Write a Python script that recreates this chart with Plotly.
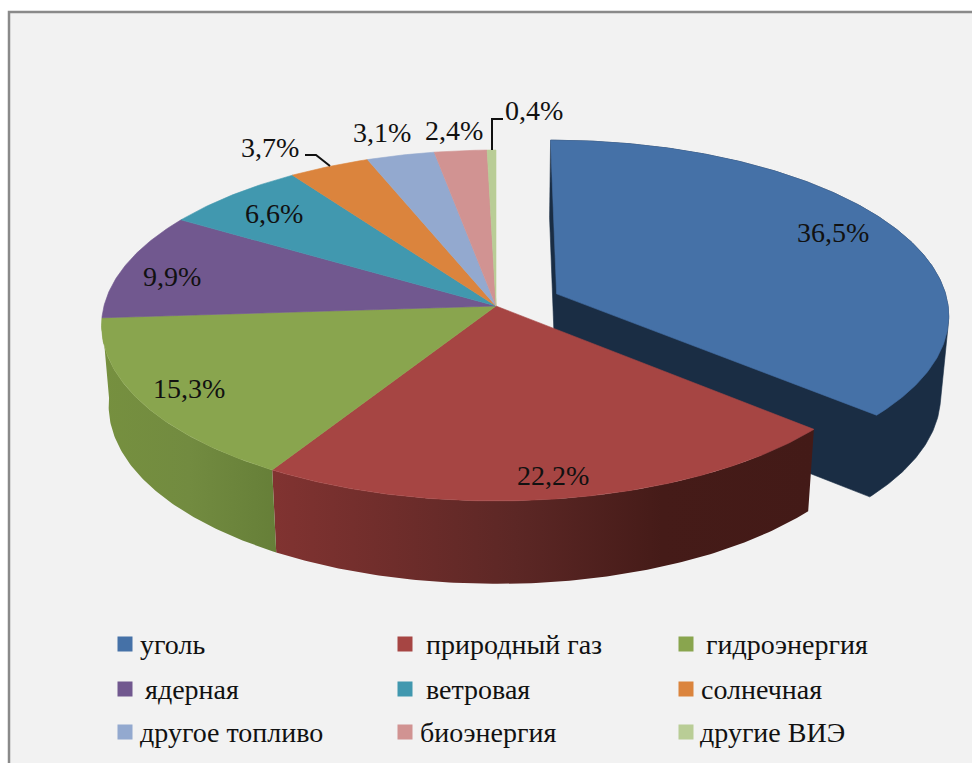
import math
import plotly.graph_objects as go

categories = ["уголь", "природный газ", "гидроэнергия", "ядерная", "ветровая",
              "солнечная", "другое топливо", "биоэнергия", "другие ВИЭ"]
legend_labels = ["уголь", "природный газ", " гидроэнергия", " ядерная", "ветровая",
                 "солнечная", "другое топливо", "биоэнергия", "другие ВИЭ"]
values = [36.5, 22.2, 15.3, 9.9, 6.6, 3.7, 3.1, 2.4, 0.4]
value_labels = ["36,5%", "22,2%", "15,3%", "9,9%", "6,6%", "3,7%", "3,1%", "2,4%", "0,4%"]
colors = ["#4571A7", "#A64543", "#89A54E", "#71588F", "#4198AF",
          "#DB843D", "#93A9CF", "#D19392", "#B9CD96"]
label_pos = [(833, 232), (553, 475), (189, 388), (172, 276), (274, 213),
             (270, 147), (382, 132), (454, 130), (534, 110)]
legend_pos = [(118, 138), (398, 424), (679, 704), (118, 143), (398, 424),
              (679, 699), (118, 138), (398, 418), (679, 698)]
legend_rows = [644, 644, 644, 689, 689, 689, 732, 732, 732]

CX, CY, RX, RY, P = 496, 306, 392, 173.3, 0.111
EXPLODE, DEPTH, DEPTH_GROW, SHRINK = 0.171, 80, 0.015, 0.982
FONT = "Liberation Serif"
TEXT_SIZE = 28


def project(u, v):
    k = 1 / (1 - P * v)
    return CX + RX * u * k, CY + RY * v * k


def lower(pt):
    return CX + (pt[0] - CX) * SHRINK, pt[1] + DEPTH + DEPTH_GROW * (pt[1] - CY)


def disc(theta, offset):
    return project(math.sin(theta) + offset[0], -math.cos(theta) + offset[1])


def arc(a0, a1, offset):
    n = max(4, int(abs(a1 - a0) * 90))
    return [disc(a0 + (a1 - a0) * i / n, offset) for i in range(n + 1)]


def hull(points):
    pts = sorted(set(points))

    def half(seq):
        out = []
        for p in seq:
            while len(out) > 1 and ((out[-1][0] - out[-2][0]) * (p[1] - out[-2][1])
                                    - (out[-1][1] - out[-2][1]) * (p[0] - out[-2][0])) <= 0:
                out.pop()
            out.append(p)
        return out[:-1]

    return half(pts) + half(pts[::-1])


def poly(pts, name, color=None, gradient=None):
    kw = dict(x=[p[0] for p in pts] + [pts[0][0]], y=[p[1] for p in pts] + [pts[0][1]],
              mode="lines", fill="toself", name=name,
              hoverinfo="name", showlegend=False)
    if gradient:
        kw["fillgradient"] = dict(type="horizontal", colorscale=gradient)
        kw["line"] = dict(width=0)
    else:
        kw["fillcolor"] = color
        kw["line"] = dict(width=0.6, color=color)
    return go.Scatter(**kw)


total = sum(values)
angles = [0]
for value in values:
    angles.append(angles[-1] + value / total * 2 * math.pi)

mid = (angles[0] + angles[1]) / 2
coal_off = (EXPLODE * math.sin(mid), -EXPLODE * math.cos(mid))
zero = (0, 0)

red_wall = [[0, "#813331"], [0.45, "#5c2725"], [0.72, "#451b18"], [1, "#431a17"]]
green_wall = [[0, "#76903f"], [0.5, "#728b40"], [1, "#667f38"]]
blue_wall = "#1A2D44"

fig = go.Figure()

# exploded coal slice: the solid's silhouette in the dark colour, its top above it
c = project(*coal_off)
a = arc(angles[0], angles[1], coal_off)
solid = [c, lower(c)] + a + [lower(p) for p in a]
fig.add_trace(poly(hull(solid), categories[0], blue_wall))
fig.add_trace(poly([c] + a, categories[0], colors[0]))

# front walls of the gas and hydro slices
c0 = (CX, CY)
a = arc(angles[1], angles[2], zero)
fig.add_trace(poly(a + [lower(p) for p in reversed(a)], categories[1], gradient=red_wall))
a = arc(angles[2], angles[3], zero)
fig.add_trace(poly(a + [lower(p) for p in reversed(a)], categories[2], gradient=green_wall))

# top surfaces
for i in range(1, len(values)):
    fig.add_trace(poly([c0] + arc(angles[i], angles[i + 1], zero), categories[i], colors[i]))

# legend swatches
fig.add_trace(go.Scatter(
    x=[p[0] + 7 for p in legend_pos], y=legend_rows, mode="markers", hoverinfo="skip",
    showlegend=False, marker=dict(symbol="square", size=15, color=colors, line=dict(width=0))))

annotations = []
for text, (x, y) in zip(value_labels, label_pos):
    annotations.append(dict(x=x, y=y, text=text, showarrow=False, xanchor="center", yanchor="middle",
                            font=dict(family=FONT, size=TEXT_SIZE, color="#111111")))
for text, (_, x), y in zip(legend_labels, legend_pos, legend_rows):
    annotations.append(dict(x=x, y=y, text=text.strip(), showarrow=False, xanchor="left", yanchor="middle",
                            font=dict(family=FONT, size=TEXT_SIZE, color="#111111")))

shapes = [
    dict(type="rect", layer="below", x0=9, y0=12, x1=990, y1=790, fillcolor="#F2F2F2",
         line=dict(color="#8A8A8A", width=2.5)),
    dict(type="path", path="M 330 166 L 316 155 L 305 155", line=dict(color="#111111", width=2)),
    dict(type="path", path="M 492 150 L 492 119 L 503 119", line=dict(color="#111111", width=2)),
]

fig.update_layout(
    width=972, height=763, autosize=False, margin=dict(l=0, r=0, t=0, b=0),
    paper_bgcolor="white", plot_bgcolor="white", showlegend=False,
    xaxis=dict(range=[0, 972], visible=False, fixedrange=True),
    yaxis=dict(range=[763, 0], visible=False, fixedrange=True),
    annotations=annotations, shapes=shapes,
)

fig.write_html("out.html", config={"displayModeBar": False},
               post_script="document.body.style.margin='0';document.body.style.overflow='hidden';")
